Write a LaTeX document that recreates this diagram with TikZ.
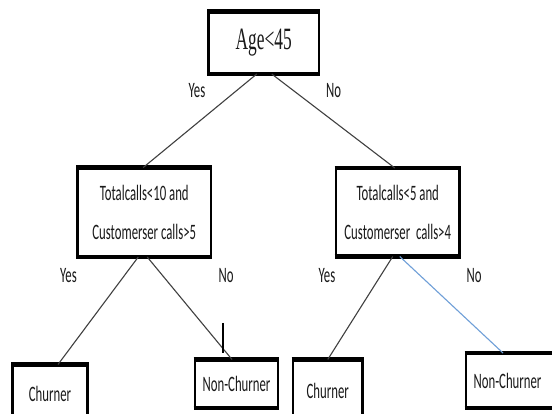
\documentclass[tikz,border=0pt]{standalone}
\usepackage{fontspec}
\newfontfamily\lblfont[FakeStretch=0.58]{Carlito}
\newfontfamily\topfont[FakeStretch=0.56]{Liberation Serif}
\definecolor{inkc}{HTML}{1A1A1A}
\definecolor{edgec}{HTML}{404040}
\definecolor{bluec}{HTML}{6F9FD8}
\tikzset{
  box/.style={draw=black, line width=2.7pt, rectangle, inner sep=0pt, outer sep=0pt,
    text=inkc, align=center, font={\lblfont\fontsize{22}{39}\selectfont}},
  conn/.style={draw=edgec, line width=1.1pt},
  blueconn/.style={draw=bluec, line width=1.1pt},
  elabel/.style={text=inkc, inner sep=0pt, font={\lblfont\fontsize{22}{26}\selectfont}},
}
\begin{document}
\begin{tikzpicture}[x=1pt,y=-1pt]
\useasboundingbox (0,0) rectangle (552,414);
\clip (0,0) rectangle (552,414);
\fill[white] (0,0) rectangle (552,414);
% boxes
\node[box, minimum width=110.5pt, minimum height=62.5pt, font={\topfont\fontsize{31}{36}\selectfont}]
  (A) at (263.75,42.75) {\raisebox{3.5pt}{Age<45}};
\node[box, minimum width=133.5pt, minimum height=89.5pt] (B) at (144.25,212.25)
  {Totalcalls<10 and\\Customerser calls>5};
\node[box, minimum width=123.5pt, minimum height=88.5pt] (C) at (397.75,212.25)
  {Totalcalls<5 and\\Customerser\ \ calls>4};
\node[box, minimum width=75pt, minimum height=59.5pt] (D) at (50,394.25) {Churner};
\node[box, minimum width=83pt, minimum height=48.5pt] (E) at (236.5,383.75) {\raisebox{-5pt}{Non-Churner}};
\node[box, minimum width=69.5pt, minimum height=63pt] (F) at (327.75,391) {Churner};
\node[box, minimum width=90pt, minimum height=55pt] (G) at (511,380.5) {\hspace*{-7pt}Non-Churner};
% thicker top and bottom edges
\foreach \n in {A,B,C,D,E,F,G} {
  \draw[line width=4.6pt] ([xshift=-1.35pt]\n.north west) -- ([xshift=1.35pt]\n.north east);
  \draw[line width=4.2pt] ([xshift=-1.35pt]\n.south west) -- ([xshift=1.35pt]\n.south east);
}
% connectors
\draw[conn] ([xshift=-7pt]A.south) -- ([xshift=-1pt]B.north);
\draw[conn] ([xshift=8pt]A.south) -- ([xshift=-3pt]C.north);
\draw[conn] ([xshift=-6pt]B.south) -- ([xshift=8pt]D.north);
\draw[conn] ([xshift=3pt]B.south) -- ([xshift=-4.5pt]E.north);
\draw[conn] ([xshift=-5pt]C.south) -- (F.north);
\draw[blueconn] ([xshift=2pt]C.south) -- ([xshift=-8pt]G.north);
% small stray tick
\coordinate (t1) at (223,323);
\coordinate (t2) at (223,353);
\draw[draw=black, line width=1.3pt] (t1) -- (t2);
% edge labels
\node[elabel] (yes1) at (197,90.5) {Yes};
\node[elabel] (no1) at (333.5,90.5) {No};
\node[elabel] (yes2) at (68.5,276) {Yes};
\node[elabel] (no2) at (226,276) {No};
\node[elabel] (yes3) at (327,276) {Yes};
\node[elabel] (no3) at (474,276) {No};
\end{tikzpicture}
\end{document}
